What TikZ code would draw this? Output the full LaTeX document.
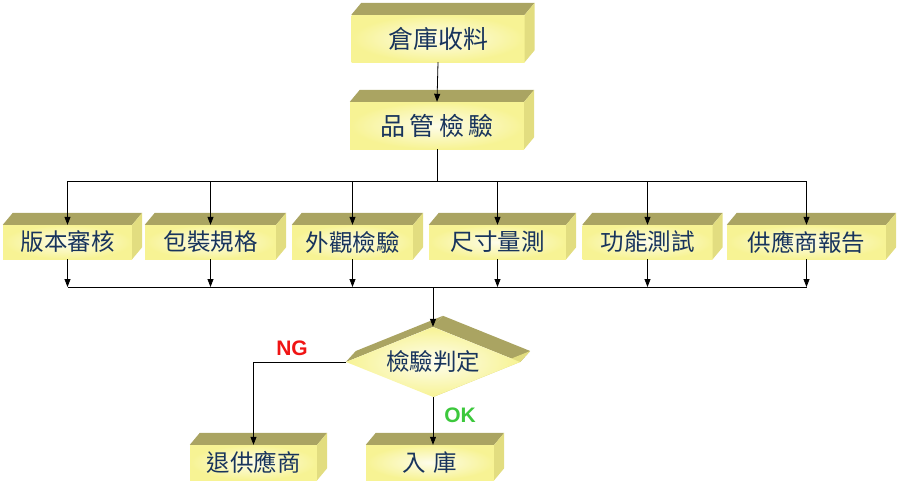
\documentclass[tikz,border=0pt]{standalone}
\usepackage{fontspec}
\newfontfamily\cjk{Noto Sans CJK TC}
\setsansfont{Liberation Sans}
\usetikzlibrary{arrows.meta, shapes.geometric, backgrounds}

\definecolor{frontyellow}{RGB}{247,243,148}
\definecolor{topolive}{RGB}{170,164,98}
\definecolor{sideyellow}{RGB}{226,221,128}
\definecolor{textblue}{RGB}{24,52,92}
\definecolor{ngred}{RGB}{240,20,20}
\definecolor{okgreen}{RGB}{60,200,60}

\tikzset{
  block/.style={rectangle, inner sep=0pt, shading=radial, inner color=white!80!frontyellow,
    outer color=frontyellow, text=textblue, font=\cjk\fontsize{23.5}{23.5}\selectfont},
  bigblock/.style={block, font=\cjk\fontsize{25}{25}\selectfont},
  decision/.style={diamond, inner sep=0pt, aspect=2.49, minimum width=174pt, minimum height=70pt,
    shading=radial, inner color=white!85!frontyellow, outer color=frontyellow,
    text=textblue, font=\cjk\fontsize{23.5}{23.5}\selectfont},
  flow/.style={-{Triangle[length=8pt,width=6pt]}, line width=0.8pt},
  bus/.style={line width=0.8pt},
  result/.style={font=\sffamily\bfseries\fontsize{21}{21}\selectfont}
}

% top and right faces of a block
\newcommand{\blockdepth}[1]{%
  \fill[topolive] (#1.north west) -- ([shift={(10,-12)}]#1.north west)
    -- ([shift={(10,-12)}]#1.north east) -- (#1.north east) -- cycle;
  \fill[sideyellow] (#1.north east) -- ([shift={(10,-12)}]#1.north east)
    -- ([shift={(10,-12)}]#1.south east) -- (#1.south east) -- cycle;
}

\begin{document}
\begin{tikzpicture}[x=1pt, y=-1pt]
  \useasboundingbox (0,0) rectangle (900,482);

  % Receiving and inspection
  \node[bigblock, minimum width=173pt, minimum height=47pt] (recv) at (438,38.5) {倉庫收料};
  \node[bigblock, minimum width=174pt, minimum height=47pt] (qc) at (437,125.5) {品\,管\,檢\,驗};
  \blockdepth{recv}
  \blockdepth{qc}

  % Inspection items
  \node[block, minimum width=129pt, minimum height=34pt] (ver) at (67.5,242) {版本審核};
  \node[block, minimum width=131pt, minimum height=34pt] (pack) at (210.5,242) {包裝規格};
  \node[block, minimum width=121pt, minimum height=34pt] (look) at (352.5,242) {外觀檢驗};
  \node[block, minimum width=137pt, minimum height=34pt] (size) at (497.5,242) {尺寸量測};
  \node[block, minimum width=130pt, minimum height=34pt] (func) at (647.5,242) {功能測試};
  \node[block, minimum width=159pt, minimum height=34pt] (report) at (806.5,242) {供應商報告};
  \blockdepth{ver}
  \blockdepth{pack}
  \blockdepth{look}
  \blockdepth{size}
  \blockdepth{func}
  \blockdepth{report}

  % Decision
  \node[decision] (judge) at (433,362) {檢驗判定};
  \begin{scope}[on background layer]
    \fill[topolive] (judge.west) -- (judge.north) -- ([shift={(10,-11)}]judge.north)
      -- ([shift={(10,-11)}]judge.west) -- cycle;
    \fill[topolive] (judge.north) -- (judge.east) -- ([shift={(10,-11)}]judge.east)
      -- ([shift={(10,-11)}]judge.north) -- cycle;
    \fill[sideyellow] (judge.east) -- (judge.south) -- ([shift={(10,-11)}]judge.south)
      -- ([shift={(10,-11)}]judge.east) -- cycle;
  \end{scope}

  % Results
  \node[block, minimum width=127pt, minimum height=35pt] (reject) at (253.5,462.5) {退供應商};
  \node[block, minimum width=128pt, minimum height=35pt] (stock) at (430,462.5) {入\,\,庫};
  \blockdepth{reject}
  \blockdepth{stock}

  % Connectors
  \draw[flow] (recv.south) -- (qc.north);
  \coordinate (topbus) at (437,181);
  \draw[bus] (qc.south) -- (topbus);
  \draw[bus] (ver.north |- topbus) -- (report.north |- topbus);
  \draw[flow] (topbus -| ver.north) -- (ver.north);
  \draw[flow] (topbus -| pack.north) -- (pack.north);
  \draw[flow] (topbus -| look.north) -- (look.north);
  \draw[flow] (topbus -| size.north) -- (size.north);
  \draw[flow] (topbus -| func.north) -- (func.north);
  \draw[flow] (topbus -| report.north) -- (report.north);

  \coordinate (botbus) at (433,287);
  \draw[flow] (ver.south) -- (ver.south |- botbus);
  \draw[flow] (pack.south) -- (pack.south |- botbus);
  \draw[flow] (look.south) -- (look.south |- botbus);
  \draw[flow] (size.south) -- (size.south |- botbus);
  \draw[flow] (func.south) -- (func.south |- botbus);
  \draw[flow] (report.south) -- (report.south |- botbus);
  \draw[bus] (ver.south |- botbus) -- (report.south |- botbus);
  \draw[flow] (botbus) -- (judge.north);

  \draw[flow] (judge.west) -| (reject.north);
  \draw[flow] (judge.south) -- (judge.south |- stock.north);

  % Labels
  \node[result, text=ngred] (ng) at (292,348) {NG};
  \node[result, text=okgreen] (ok) at (460,415) {OK};
\end{tikzpicture}
\end{document}
